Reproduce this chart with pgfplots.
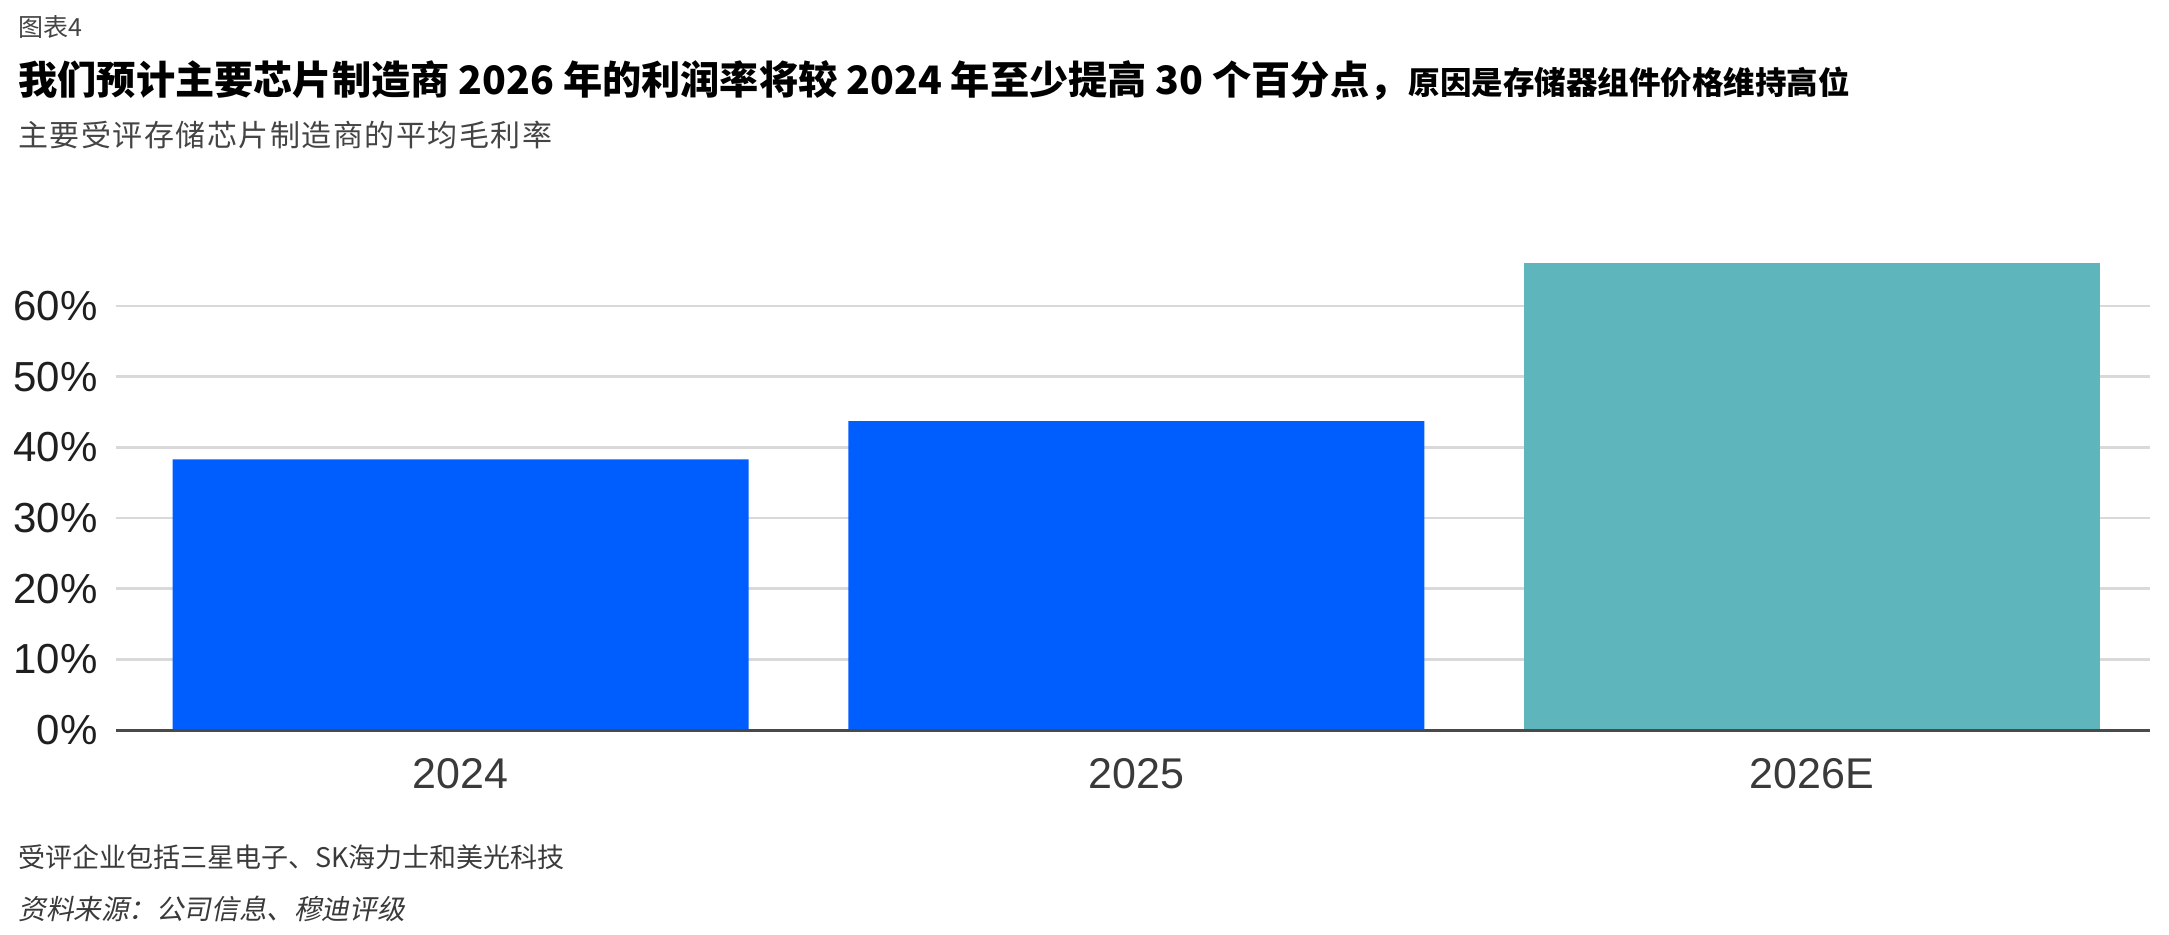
\documentclass[border=0pt]{standalone}
\usepackage{pgfplots}
\pgfplotsset{compat=1.18}
\usepackage{fontspec}
\setmainfont{Liberation Sans}
\newfontfamily\cjk{Noto Sans CJK SC}
\newfontfamily\cjksp{Noto Sans CJK SC}[LetterSpace=5]
\newfontfamily\cjkit{Noto Sans CJK SC}[FakeSlant=0.2]
\definecolor{barblue}{HTML}{005EFF}
\definecolor{barteal}{HTML}{5FB5BC}
\definecolor{gridgray}{HTML}{D9D9D9}
\definecolor{axisgray}{HTML}{4A4A4A}
\definecolor{txtgray}{HTML}{3A3A3A}
\definecolor{subgray}{HTML}{444444}
\begin{document}
\begin{tikzpicture}
\useasboundingbox (0,0) rectangle (1084.5pt,-467pt);
\node[anchor=west, inner sep=0pt, text=subgray] at (9pt,-13.25pt) {\cjk\fontsize{12.5pt}{14pt}\selectfont 图表4};
\node[anchor=west, inner sep=0pt, text=black] at (9pt,-40.5pt) {\cjk\bfseries\fontsize{19.6pt}{22pt}\selectfont 我们预计主要芯片制造商 2026 年的利润率将较 2024 年至少提高 30 个百分点，{\fontsize{15.75pt}{18pt}\selectfont 原因是存储器组件价格维持高位}};
\node[anchor=west, inner sep=0pt, text=subgray] at (9pt,-67.5pt) {\cjksp\fontsize{15pt}{17pt}\selectfont 主要受评存储芯片制造商的平均毛利率};
\node[anchor=west, inner sep=0pt, text=txtgray] at (9pt,-428.5pt) {\cjk\fontsize{13.5pt}{16pt}\selectfont 受评企业包括三星电子、SK海力士和美光科技};
\node[anchor=west, inner sep=0pt, text=txtgray] at (9pt,-454.5pt) {\cjkit\fontsize{13.8pt}{16pt}\selectfont 资料来源：公司信息、穆迪评级};
\begin{axis}[
  at={(58pt,-365pt)}, anchor=south west,
  scale only axis, width=1017pt, height=234pt,
  xmin=-0.51, xmax=2.5, ymin=0, ymax=66.2,
  axis x line=bottom, axis y line=left,
  axis line style={draw=none,-},
  major tick length=0pt,
  xtick={0,1,2}, xticklabels={2024,2025,2026E},
  ytick={0,10,20,30,40,50,60},
  yticklabels={0\%,10\%,20\%,30\%,40\%,50\%,60\%},
  xticklabel style={inner sep=0pt, anchor=north, yshift=-14pt, text=txtgray, font=\fontsize{21.5pt}{22pt}\selectfont},
  yticklabel style={inner sep=0pt, anchor=east, xshift=-9pt, text=black!88, font=\fontsize{21pt}{22pt}\selectfont},
  ymajorgrids, grid style={color=gridgray, line width=1.3pt},
  clip=false,
]
\addplot[ybar, bar width=288pt, bar shift=0pt, fill=barblue, draw=none] coordinates {(0,38.3) (1,43.7)};
\addplot[ybar, bar width=288pt, bar shift=0pt, fill=barteal, draw=none] coordinates {(2,66.1)};
\draw[axisgray, line width=1.5pt] (axis cs:-0.51,0) -- (axis cs:2.5,0);
\end{axis}
\end{tikzpicture}
\end{document}
